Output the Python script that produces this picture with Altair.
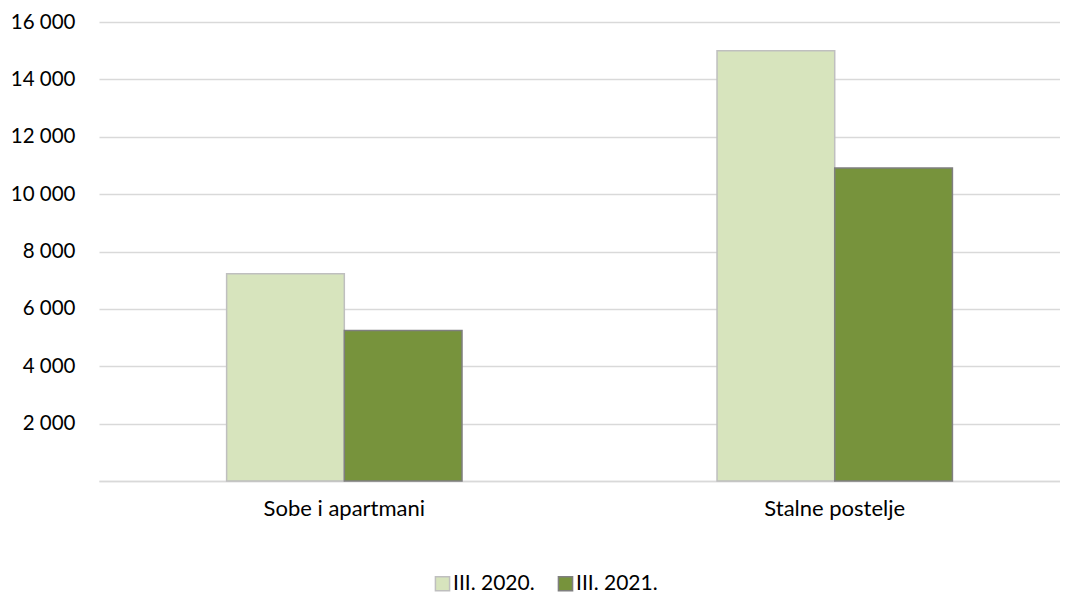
import altair as alt
import pandas as pd

categories = ["Sobe i apartmani", "Stalne postelje"]
series = ["III. 2020.", "III. 2021."]
values_2020 = [7225, 15000]
values_2021 = [5250, 10910]
fill_colors = ["#D7E4BD", "#77933C"]
stroke_colors = ["#BFBFBF", "#7F7F7F"]

rows = []
for c, a, b in zip(categories, values_2020, values_2021):
    rows.append({"kat": c, "god": series[0], "v": a})
    rows.append({"kat": c, "god": series[1], "v": b})
df = pd.DataFrame(rows)

FONT = "Lato"

chart = alt.Chart(df).mark_bar(strokeWidth=1.5).encode(
    x=alt.X("kat:N", sort=categories, title=None,
            scale=alt.Scale(paddingInner=0.52, paddingOuter=0.2398, align=0.5426),
            axis=alt.Axis(labelAngle=0, ticks=False, labelPadding=17, labelFontSize=22,
                          labelColor="#000000", labelFont=FONT, domainColor="#D9D9D9",
                          domainWidth=1.5, grid=False)),
    xOffset=alt.XOffset("god:N", sort=series),
    y=alt.Y("v:Q", title=None,
            scale=alt.Scale(domain=[0, 16000], nice=False),
            axis=alt.Axis(values=[0, 2000, 4000, 6000, 8000, 10000, 12000, 14000, 16000],
                          labelExpr="datum.value == 0 ? '' : replace(format(datum.value, ','), ',', ' ')",
                          ticks=False, domain=False, labelPadding=24, labelFontSize=20.5,
                          labelColor="#000000", labelFont=FONT, gridColor="#D9D9D9",
                          gridWidth=1.5)),
    color=alt.Color("god:N", sort=series,
                    scale=alt.Scale(domain=series, range=fill_colors),
                    legend=alt.Legend(title=None, orient="none", legendX=333, legendY=551,
                                      direction="horizontal", symbolType="square",
                                      symbolSize=200, labelFontSize=21, labelFont=FONT,
                                      labelColor="#000000", labelOffset=0, columnPadding=20,
                                      padding=0, symbolStrokeWidth=1.5)),
    stroke=alt.Stroke("god:N", sort=series,
                      scale=alt.Scale(domain=series, range=stroke_colors),
                      legend=None),
).properties(
    width=961, height=459,
    padding={"left": 91, "top": 14, "right": 0, "bottom": 115},
    autosize=alt.AutoSizeParams(type="none"),
).configure_view(stroke=None)

chart.save("out.html", embed_options={"renderer": "svg", "actions": False})
